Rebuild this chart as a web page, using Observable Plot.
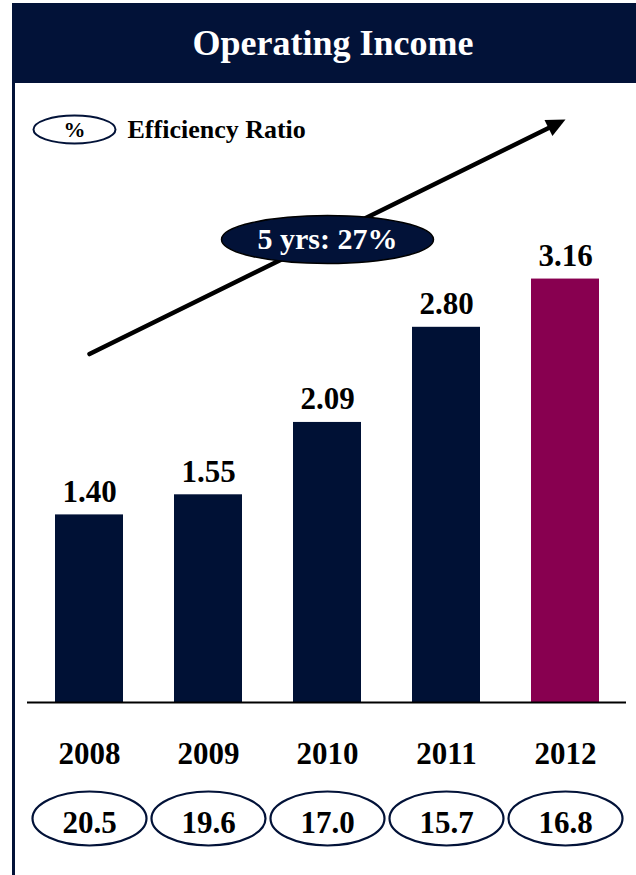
<!DOCTYPE html>
<html>
<head>
<meta charset="utf-8">
<script src="https://cdn.jsdelivr.net/npm/d3@7"></script>
<script src="https://cdn.jsdelivr.net/npm/@observablehq/plot@0.6"></script>
<style>
  html, body { margin: 0; padding: 0; background: #fff; }
  #page { position: relative; width: 636px; height: 875px; overflow: hidden; background: #fff; }
  #chart { position: absolute; left: 0; top: 0; }
  #header { position: absolute; left: 12px; top: 3px; width: 642px; height: 80px; background: #021238;
            color: #fff; font: bold 36px "Liberation Serif", "Times New Roman", serif;
            text-align: center; line-height: 80px; }
  #border { position: absolute; left: 12px; top: 83px; width: 3px; height: 792px; background: #021238; }
</style>
</head>
<body>
<div id="page">
  <div id="chart"></div>
  <div id="header">Operating Income</div>
  <div id="border"></div>
</div>
<script>
// ---- data ----
const years = ["2008", "2009", "2010", "2011", "2012"];
const operatingIncome = [1.40, 1.55, 2.09, 2.80, 3.16];
const efficiencyRatio = [20.5, 19.6, 17.0, 15.7, 16.8];
const growthLabel = "5 yrs: 27%";
const legendSymbol = "%";
const legendLabel = "Efficiency Ratio";
const trendYears = ["2008", "2012"];
const trendValues = [2.60, 4.35];
const growthLabelYear = "2010";
const growthLabelValue = 3.455;

// ---- styles ----
const NAVY = "#021238";
const BAR_NAVY = "#001135";
const MAGENTA = "#880050";
const SERIF = '"Liberation Serif", "Times New Roman", serif';

const bars = years.map((year, i) => ({year, value: operatingIncome[i], highlight: i === years.length - 1}));
const ratios = years.map((year, i) => ({year, ratio: efficiencyRatio[i]}));
const trend = [{x1: trendYears[0], y1: trendValues[0], x2: trendYears[1], y2: trendValues[1]}];

function ellipse(rx, ry) {
  const k = 0.5523;
  return {
    draw(ctx) {
      ctx.moveTo(rx, 0);
      ctx.bezierCurveTo(rx, ry * k, rx * k, ry, 0, ry);
      ctx.bezierCurveTo(-rx * k, ry, -rx, ry * k, -rx, 0);
      ctx.bezierCurveTo(-rx, -ry * k, -rx * k, -ry, 0, -ry);
      ctx.bezierCurveTo(rx * k, -ry, rx, -ry * k, rx, 0);
      ctx.closePath();
    }
  };
}
const arrowHead = {
  draw(ctx) {
    ctx.moveTo(0, 0);
    ctx.lineTo(-19, -9);
    ctx.lineTo(-19, 9);
    ctx.closePath();
  }
};

const chart = Plot.plot({
  width: 636,
  height: 875,
  marginTop: 32,
  marginBottom: 173,
  marginLeft: 27,
  marginRight: 10,
  style: {fontFamily: SERIF, background: "white", color: "black"},
  x: {type: "band", domain: years, paddingInner: 0.43, paddingOuter: 0.22},
  y: {domain: [0, 5], axis: null},
  marks: [
    Plot.barY(bars, {x: "year", y: "value", fill: d => d.highlight ? MAGENTA : BAR_NAVY}),
    Plot.ruleY([0], {stroke: "black", strokeWidth: 2}),
    Plot.text(bars, {x: "year", y: "value", text: d => d.value.toFixed(2), dy: -13, lineAnchor: "bottom",
      fontSize: 31, fontWeight: "bold", fill: "black"}),
    Plot.axisX({tickSize: 0, tickPadding: 39, fontSize: 31, fontWeight: "bold", fill: "black", label: null}),
    Plot.dot(ratios, {x: "year", frameAnchor: "bottom", dy: 116, symbol: ellipse(57, 27),
      fill: "white", stroke: NAVY, strokeWidth: 2.2}),
    Plot.text(ratios, {x: "year", frameAnchor: "bottom", dy: 130, lineAnchor: "bottom",
      text: d => d.ratio.toFixed(1), fontSize: 31, fontWeight: "bold", fill: "black"}),
    Plot.arrow(trend, {x1: "x1", y1: "y1", x2: "x2", y2: "y2", stroke: "black", strokeWidth: 4.5,
      headLength: 0, insetEnd: 12}),
    Plot.dot(trend, {x: "x2", y: "y2", symbol: arrowHead, rotate: -26.2, fill: "black", stroke: "none"}),
    Plot.dot([growthLabel], {x: () => growthLabelYear, y: () => growthLabelValue, symbol: ellipse(106, 24),
      fill: NAVY, stroke: "black", strokeWidth: 1.5}),
    Plot.text([growthLabel], {x: () => growthLabelYear, y: () => growthLabelValue, text: d => d,
      fontSize: 30, fontWeight: "bold", fill: "white", lineAnchor: "middle"}),
    Plot.dot([legendSymbol], {frameAnchor: "top-left", dx: 47, dy: 97, symbol: ellipse(41, 14),
      fill: "white", stroke: NAVY, strokeWidth: 2}),
    Plot.text([legendSymbol], {frameAnchor: "top-left", dx: 47, dy: 97, text: d => d, lineAnchor: "middle",
      textAnchor: "middle", fontSize: 22, fontWeight: "bold", fill: "black"}),
    Plot.text([legendLabel], {frameAnchor: "top-left", dx: 100, dy: 97, text: d => d, textAnchor: "start",
      lineAnchor: "middle", fontSize: 26, fontWeight: "bold", fill: "black"})
  ]
});
document.getElementById("chart").appendChild(chart);
</script>
</body>
</html>
